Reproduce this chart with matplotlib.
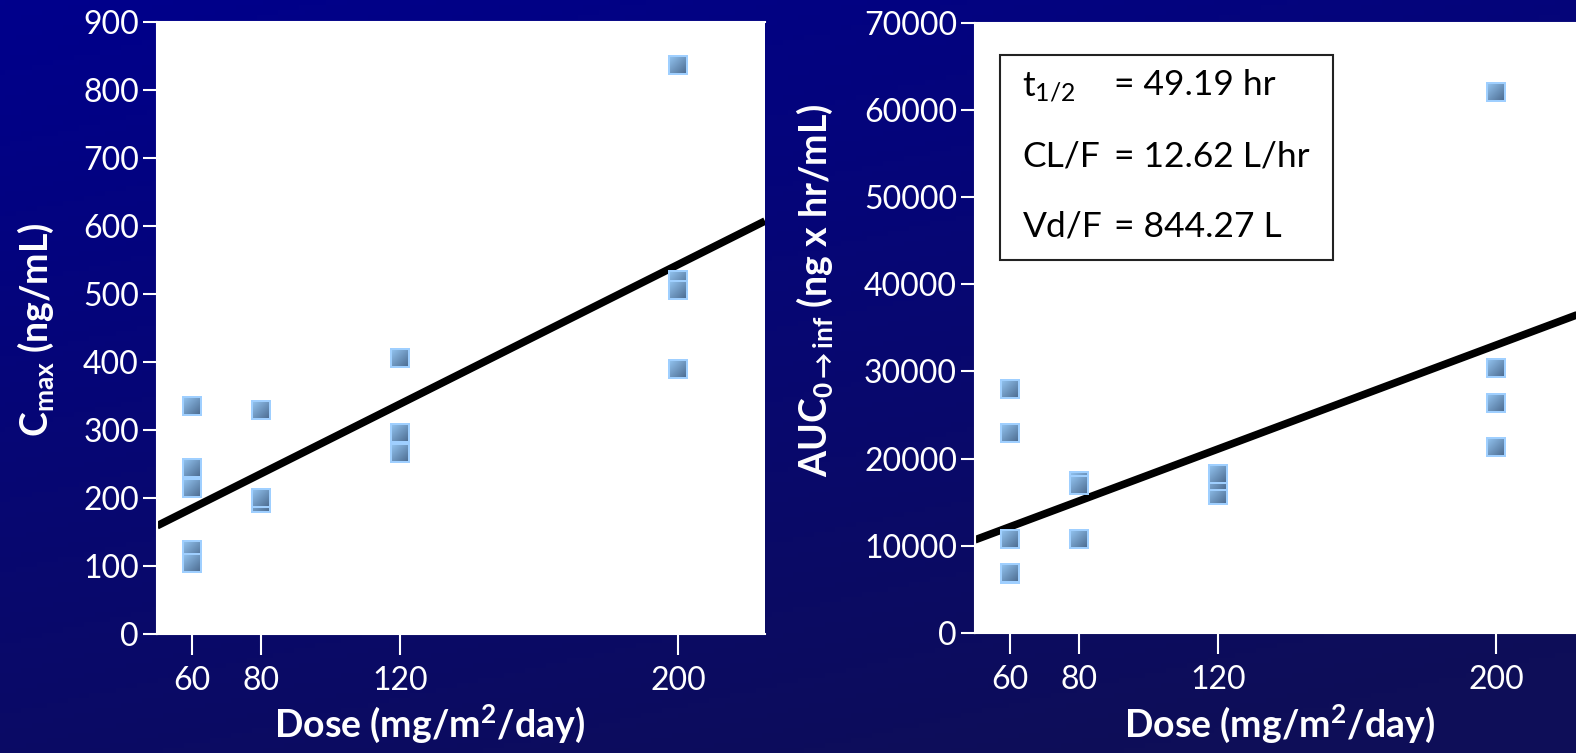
import numpy as np
import matplotlib
matplotlib.use("Agg")
import matplotlib.pyplot as plt
from matplotlib.patches import Rectangle
from matplotlib.offsetbox import OffsetImage, AnnotationBbox

plt.rcParams['font.family'] = ['Lato', 'DejaVu Sans']
plt.rcParams['mathtext.fontset'] = 'custom'
plt.rcParams['mathtext.rm'] = 'Lato'
plt.rcParams['mathtext.it'] = 'Lato:italic'
plt.rcParams['mathtext.bf'] = 'Lato:bold'
plt.rcParams['mathtext.fallback'] = 'stixsans'

# data (dose groups, values in drawing order)
dose_ticks = [60, 80, 120, 200]

cmax_dose = [60, 60, 60, 60, 60, 80, 80, 80, 120, 120, 120, 200, 200, 200, 200]
cmax_vals = [335, 244, 214, 124, 104, 330, 192, 200, 405, 295, 266, 837, 521, 506, 390]
cmax_fit = (31.0, 2.56)   # intercept, slope

auc_dose = [60, 60, 60, 60, 60, 80, 80, 80, 120, 120, 120, 200, 200, 200, 200]
auc_vals = [27950, 22900, 10750, 6750, 6915, 17430, 16970, 10745,
            15830, 17430, 18200, 62040, 30350, 26340, 21300]
auc_fit = (3235.0, 149.0)

pk_labels = ["t$_{1/2}$", "CL/F", "Vd/F"]
pk_values = ["= 49.19 hr", "= 12.62 L/hr", "= 844.27 L"]

fig = plt.figure(figsize=(15.76, 7.53), dpi=100)

# dark blue gradient background
bg = fig.add_axes([0, 0, 1, 1], zorder=-10)
gx, gy = np.meshgrid(np.linspace(0, 1, 300), np.linspace(0, 1, 150))
t = np.clip(0.35 * gx + 0.75 * gy, 0, 1)
c0 = np.array([0, 0, 140]) / 255.0
c1 = np.array([14, 14, 88]) / 255.0
img = c0[None, None, :] * (1 - t[..., None]) + c1[None, None, :] * t[..., None]
bg.imshow(img, aspect='auto', extent=[0, 1, 0, 1], origin='upper')
bg.axis('off')

# square marker with a diagonal gradient (light top-left, slate bottom-right)
n = 20
mx, my = np.meshgrid(np.arange(n), np.arange(n))
u = ((mx + my) / (2 * (n - 1)))[..., None]
top = np.array([150, 200, 245]) / 255.0
bot = np.array([72, 102, 138]) / 255.0
marker_img = np.ones((n, n, 4))
marker_img[..., :3] = top * (1 - u) + bot * u
edge = (mx < 2) | (my < 2) | (mx > n - 3) | (my > n - 3)
marker_img[edge, :3] = np.array([160, 208, 255]) / 255.0


def style_axes(ax):
    ax.set_facecolor('white')
    for s in ['left', 'bottom', 'top']:
        ax.spines[s].set_color('white')
        ax.spines[s].set_linewidth(1.5)
    ax.spines['right'].set_visible(False)
    ax.tick_params(axis='y', colors='white', labelsize=23, length=10, width=1.5, pad=3)
    ax.tick_params(axis='x', colors='white', labelsize=23, length=15, width=1.5, pad=8)
    ax.set_xlim(50, 225)
    ax.set_xticks(dose_ticks)


def draw_points(ax, xs, ys):
    for x, y in zip(xs, ys):
        ab = AnnotationBbox(OffsetImage(marker_img, zoom=1, dpi_cor=False), (x, y),
                            frameon=False, pad=0, zorder=3)
        ax.add_artist(ab)


ax1 = fig.add_axes([0.0996, 0.158, 0.3858, 0.8132])
style_axes(ax1)
ax1.set_ylim(0, 900)
ax1.set_yticks(range(0, 901, 100))
xs = np.array(ax1.get_xlim())
ax1.plot(xs, cmax_fit[0] + cmax_fit[1] * xs, color='black', lw=5.5, zorder=2, solid_capstyle='butt')
draw_points(ax1, cmax_dose, cmax_vals)

ax2 = fig.add_axes([0.6187, 0.1594, 0.3858, 0.8103])
style_axes(ax2)
ax2.set_ylim(0, 70000)
ax2.set_yticks(range(0, 70001, 10000))
xs = np.array(ax2.get_xlim())
ax2.plot(xs, auc_fit[0] + auc_fit[1] * xs, color='black', lw=5.5, zorder=2, solid_capstyle='butt')
draw_points(ax2, auc_dose, auc_vals)

# parameter box
ax2.add_patch(Rectangle((0.041, 0.612), 0.547, 0.335, transform=ax2.transAxes,
                        facecolor='white', edgecolor='#222222', lw=1.5, zorder=4))
for i, (lab, val) in enumerate(zip(pk_labels, pk_values)):
    yb = [0.882, 0.765, 0.649][i]
    ax2.text(0.078, yb, lab, transform=ax2.transAxes, fontsize=25.5, color='black',
             va='baseline', ha='left', zorder=5)
    ax2.text(0.228, yb, val, transform=ax2.transAxes, fontsize=25.5, color='black',
             va='baseline', ha='left', zorder=5)

# axis titles
fig.text(430 / 1576, 1 - 724 / 753, "Dose (mg/m$^{\\mathbf{2}}$/day)", color='white',
         fontsize=27, fontweight='bold', ha='center', va='center')
fig.text(1280 / 1576, 1 - 724 / 753, "Dose (mg/m$^{\\mathbf{2}}$/day)", color='white',
         fontsize=27, fontweight='bold', ha='center', va='center')
fig.text(36 / 1576, 1 - 330 / 753, "C$_{\\mathbf{max}}$ (ng/mL)", color='white',
         fontsize=27, fontweight='bold', ha='center', va='center', rotation=90)
fig.text(815 / 1576, 1 - 290 / 753, "AUC$_{\\mathbf{0\\rightarrow inf}}$ (ng x hr/mL)", color='white',
         fontsize=27, fontweight='bold', ha='center', va='center', rotation=90)

fig.savefig("out.png", dpi=100)
